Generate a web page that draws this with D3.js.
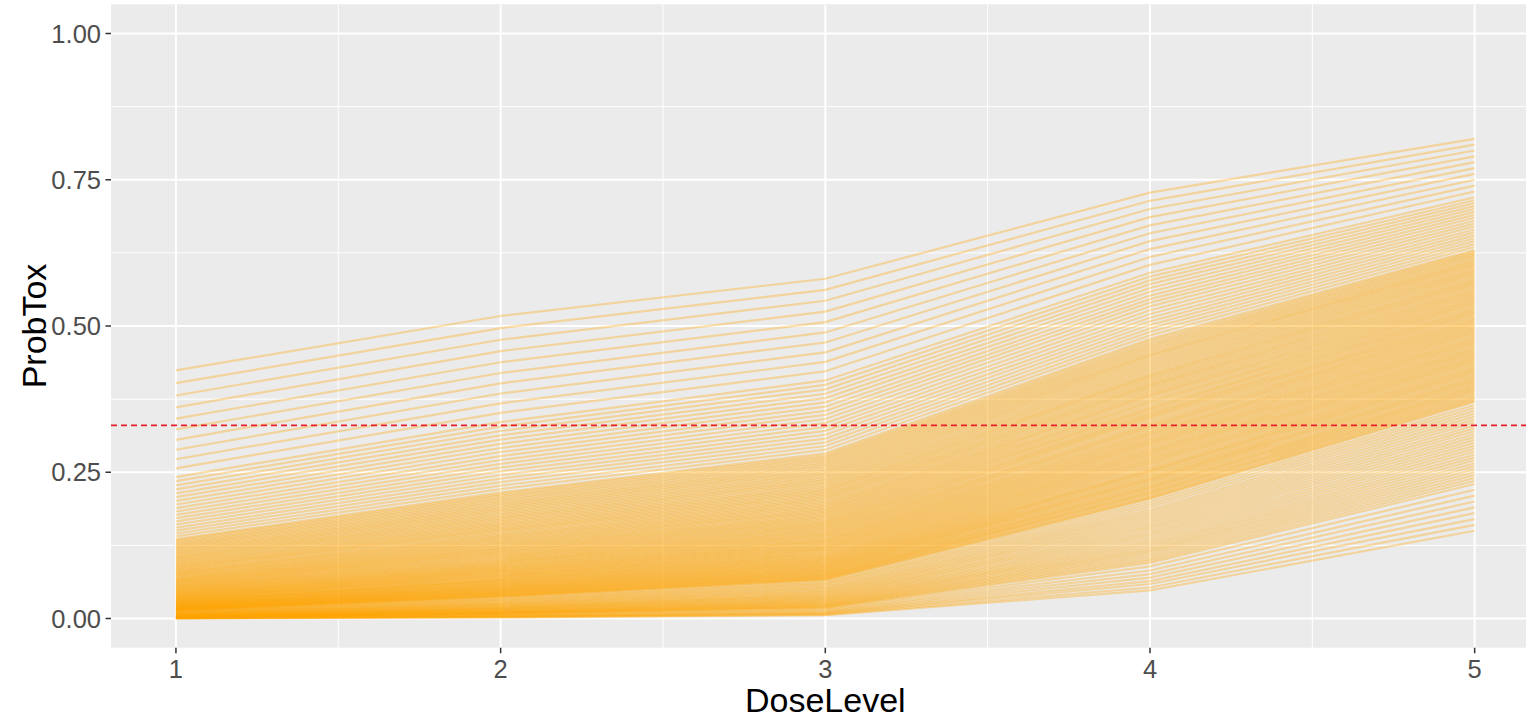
<!DOCTYPE html>
<html>
<head>
<meta charset="utf-8">
<script src="https://cdn.jsdelivr.net/npm/d3@7"></script>
<style>
  body { margin: 0; background: #fff; }
  svg { display: block; font-family: "Liberation Sans", Arial, sans-serif; }
  .tick-label { fill: #4d4d4d; font-size: 25.5px; }
  .axis-title { fill: #000; font-size: 34px; }
</style>
</head>
<body>
<svg width="1526" height="718"></svg>
<script>
// Dose levels on the x axis
var doseLevels = [1, 2, 3, 4, 5];

// Posterior draws of the toxicity probability at each dose level.
// Index i in every array belongs to the same draw (= one line).
// Rows: low tail / lower band / core / upper band / high tail
var tox1 = [0.0003,0.0004,0.0005,0.0006,0.0008,0.0010,0.0012,0.0014,
  0.0017,0.0019,0.0021,0.0023,0.0025,0.0027,0.0030,0.0032,0.0035,0.0038,0.0041,0.0044,0.0047,0.0051,0.0055,0.0059,0.0063,0.0068,0.0073,0.0078,0.0083,0.0088,0.0094,0.0100,0.0107,0.0114,0.0121,0.0128,
  0.0136,0.0140,0.0144,0.0148,0.0153,0.0157,0.0162,0.0166,0.0171,0.0175,0.0180,0.0185,0.0191,0.0196,0.0201,0.0206,0.0212,0.0217,0.0223,0.0229,
  0.0235,0.0241,0.0248,0.0254,0.0260,0.0267,0.0274,0.0281,0.0288,0.0295,0.0302,0.0309,0.0317,0.0325,0.0333,0.0341,0.0349,0.0357,0.0365,0.0374,
  0.0383,0.0392,0.0401,0.0410,0.0419,0.0428,0.0438,0.0448,0.0458,0.0468,0.0479,0.0489,0.0500,0.0511,0.0522,0.0533,0.0545,0.0556,0.0568,0.0580,
  0.0592,0.0604,0.0617,0.0630,0.0643,0.0656,0.0670,0.0683,0.0697,0.0711,0.0726,0.0740,0.0755,0.0770,0.0785,0.0800,0.0816,0.0832,0.0848,0.0864,
  0.0881,0.0898,0.0915,0.0932,0.0950,0.0968,0.0986,0.1004,0.1022,0.1041,0.1060,0.1080,0.1100,0.1120,0.1140,0.1160,0.1181,0.1202,0.1223,0.1245,
  0.1267,0.1290,0.1312,0.1335,0.1358,
  0.1405,0.1453,0.1503,0.1554,0.1607,0.1660,0.1715,0.1771,0.1829,0.1888,0.1949,0.2011,0.2075,0.2140,0.2208,0.2276,0.2347,0.2418,
  0.2567,0.2722,0.2885,0.3054,0.3232,0.3416,0.3610,0.3812,0.4023,0.4241];
var tox2 = [0.0018,0.0023,0.0028,0.0034,0.0040,0.0048,0.0056,0.0065,
  0.0076,0.0081,0.0087,0.0093,0.0100,0.0107,0.0114,0.0121,0.0129,0.0137,0.0146,0.0155,0.0164,0.0173,0.0183,0.0193,0.0204,0.0215,0.0227,0.0239,0.0251,0.0264,0.0278,0.0292,0.0306,0.0321,0.0336,0.0352,
  0.0368,0.0376,0.0385,0.0393,0.0402,0.0411,0.0420,0.0429,0.0438,0.0447,0.0457,0.0466,0.0476,0.0486,0.0497,0.0507,0.0517,0.0527,0.0538,0.0549,
  0.0560,0.0571,0.0583,0.0594,0.0606,0.0618,0.0630,0.0642,0.0654,0.0666,0.0679,0.0692,0.0705,0.0718,0.0731,0.0744,0.0758,0.0772,0.0786,0.0800,
  0.0814,0.0828,0.0843,0.0858,0.0873,0.0888,0.0904,0.0919,0.0935,0.0951,0.0967,0.0983,0.1000,0.1017,0.1034,0.1051,0.1068,0.1085,0.1103,0.1121,
  0.1139,0.1157,0.1176,0.1194,0.1213,0.1232,0.1252,0.1271,0.1291,0.1311,0.1331,0.1352,0.1373,0.1393,0.1414,0.1435,0.1457,0.1479,0.1501,0.1523,
  0.1545,0.1568,0.1591,0.1614,0.1637,0.1661,0.1685,0.1709,0.1733,0.1757,0.1782,0.1807,0.1833,0.1858,0.1884,0.1910,0.1936,0.1962,0.1989,0.2016,
  0.2044,0.2071,0.2099,0.2127,0.2155,
  0.2213,0.2271,0.2331,0.2391,0.2453,0.2515,0.2579,0.2644,0.2710,0.2777,0.2846,0.2915,0.2986,0.3058,0.3131,0.3205,0.3281,0.3358,
  0.3516,0.3678,0.3846,0.4019,0.4197,0.4380,0.4570,0.4765,0.4965,0.5171];
var tox3 = [0.0056,0.0066,0.0078,0.0092,0.0106,0.0122,0.0140,0.0159,
  0.0179,0.0190,0.0201,0.0213,0.0225,0.0237,0.0250,0.0264,0.0278,0.0292,0.0307,0.0322,0.0338,0.0354,0.0371,0.0388,0.0405,0.0423,0.0442,0.0461,0.0481,0.0501,0.0522,0.0543,0.0565,0.0587,0.0610,0.0634,
  0.0658,0.0670,0.0683,0.0695,0.0708,0.0721,0.0734,0.0747,0.0760,0.0773,0.0787,0.0800,0.0814,0.0828,0.0842,0.0856,0.0871,0.0886,0.0901,0.0916,
  0.0931,0.0946,0.0961,0.0977,0.0993,0.1009,0.1025,0.1041,0.1057,0.1073,0.1090,0.1107,0.1124,0.1141,0.1159,0.1176,0.1194,0.1212,0.1230,0.1248,
  0.1266,0.1285,0.1304,0.1322,0.1341,0.1360,0.1380,0.1400,0.1420,0.1439,0.1459,0.1479,0.1500,0.1520,0.1541,0.1562,0.1584,0.1605,0.1626,0.1648,
  0.1670,0.1692,0.1714,0.1736,0.1759,0.1782,0.1805,0.1828,0.1852,0.1875,0.1899,0.1923,0.1947,0.1971,0.1996,0.2021,0.2046,0.2071,0.2096,0.2121,
  0.2147,0.2173,0.2199,0.2225,0.2252,0.2278,0.2305,0.2332,0.2360,0.2387,0.2415,0.2443,0.2471,0.2499,0.2528,0.2556,0.2585,0.2614,0.2644,0.2673,
  0.2703,0.2733,0.2763,0.2793,0.2824,
  0.2886,0.2948,0.3012,0.3076,0.3141,0.3207,0.3274,0.3341,0.3410,0.3480,0.3550,0.3621,0.3694,0.3767,0.3842,0.3917,0.3993,0.4069,
  0.4226,0.4386,0.4550,0.4718,0.4890,0.5066,0.5246,0.5431,0.5617,0.5808];
var tox4 = [0.048,0.053,0.059,0.064,0.070,0.076,0.082,0.089,
  0.095,0.0985,0.102,0.1055,0.109,0.1125,0.116,0.1195,0.123,0.1265,0.130,0.134,0.138,0.142,0.146,0.150,0.154,0.158,0.162,0.166,0.170,0.174,0.178,0.182,0.186,0.1905,0.195,0.1995,
  0.204,0.206,0.208,0.2105,0.213,0.215,0.217,0.2195,0.222,0.224,0.226,0.2285,0.231,0.2335,0.236,0.238,0.240,0.2425,0.245,0.2475,
  0.250,0.252,0.254,0.2565,0.259,0.2615,0.264,0.2665,0.269,0.2715,0.274,0.2765,0.279,0.2815,0.284,0.2865,0.289,0.2915,0.294,0.2965,
  0.299,0.3015,0.304,0.3065,0.309,0.3115,0.314,0.3165,0.319,0.322,0.325,0.3275,0.330,0.3325,0.335,0.338,0.341,0.3435,0.346,0.3485,
  0.351,0.354,0.357,0.3595,0.362,0.365,0.368,0.3705,0.373,0.376,0.379,0.3815,0.384,0.387,0.390,0.393,0.396,0.3985,0.401,0.404,
  0.407,0.410,0.413,0.4155,0.418,0.421,0.424,0.427,0.430,0.433,0.436,0.439,0.442,0.445,0.448,0.4505,0.453,0.456,0.459,0.462,
  0.465,0.468,0.471,0.4745,0.478,
  0.484,0.490,0.496,0.502,0.508,0.514,0.5205,0.527,0.5335,0.540,0.546,0.552,0.5585,0.565,0.5715,0.578,0.5845,0.591,
  0.6045,0.618,0.6315,0.645,0.6585,0.672,0.686,0.700,0.714,0.728];
var tox5 = [0.15,0.16,0.17,0.18,0.19,0.20,0.21,0.22,
  0.23,0.235,0.24,0.245,0.25,0.255,0.26,0.265,0.27,0.275,0.28,0.285,0.29,0.295,0.30,0.305,0.31,0.315,0.32,0.325,0.33,0.335,0.34,0.345,0.35,0.355,0.36,0.365,
  0.37,0.3725,0.375,0.3775,0.38,0.3825,0.385,0.3875,0.39,0.3925,0.395,0.3975,0.40,0.4025,0.405,0.4075,0.41,0.4125,0.415,0.4175,
  0.42,0.4225,0.425,0.4275,0.43,0.4325,0.435,0.4375,0.44,0.4425,0.445,0.4475,0.45,0.4525,0.455,0.4575,0.46,0.4625,0.465,0.4675,
  0.47,0.4725,0.475,0.4775,0.48,0.4825,0.485,0.4875,0.49,0.4925,0.495,0.4975,0.50,0.5025,0.505,0.5075,0.51,0.5125,0.515,0.5175,
  0.52,0.5225,0.525,0.5275,0.53,0.5325,0.535,0.5375,0.54,0.5425,0.545,0.5475,0.55,0.5525,0.555,0.5575,0.56,0.5625,0.565,0.5675,
  0.57,0.5725,0.575,0.5775,0.58,0.5825,0.585,0.5875,0.59,0.5925,0.595,0.5975,0.60,0.6025,0.605,0.6075,0.61,0.6125,0.615,0.6175,
  0.62,0.6225,0.625,0.6275,0.63,
  0.635,0.64,0.645,0.65,0.655,0.66,0.665,0.67,0.675,0.68,0.685,0.69,0.695,0.70,0.705,0.71,0.715,0.72,
  0.73,0.74,0.75,0.76,0.77,0.78,0.79,0.80,0.81,0.82];

var targetTox = 0.33;                       // dashed reference line

// Axis breaks
var xBreaks = [1, 2, 3, 4, 5];
var xMinor = [1.5, 2.5, 3.5, 4.5];
var yBreaks = [0, 0.25, 0.5, 0.75, 1];
var yMinor = [0.125, 0.375, 0.625, 0.875];
var yLabels = ["0.00", "0.25", "0.50", "0.75", "1.00"];

// Build one line per draw from the dose arrays
var toxByDose = [tox1, tox2, tox3, tox4, tox5];
var draws = tox1.map(function(d, i) {
    return doseLevels.map(function(dose, k) { return {dose: dose, p: toxByDose[k][i]}; });
});

var svg = d3.select("svg"),
    panel = {left: 111, top: 4.25, right: 1539.6, bottom: 647.75};

var x = d3.scaleLinear().domain([0.8, 5.2]).range([panel.left, panel.right]);
var y = d3.scaleLinear().domain([-0.05, 1.05]).range([panel.bottom, panel.top]);

svg.append("clipPath").attr("id", "clip")
  .append("rect")
    .attr("x", panel.left).attr("y", panel.top)
    .attr("width", panel.right - panel.left).attr("height", panel.bottom - panel.top);

// ==================== Panel + grid ==================== //
svg.append("rect")
    .attr("x", panel.left).attr("y", panel.top)
    .attr("width", panel.right - panel.left).attr("height", panel.bottom - panel.top)
    .attr("fill", "#ebebeb");

var grid = svg.append("g").attr("clip-path", "url(#clip)");

grid.selectAll(".ymin").data(yMinor).enter().append("line")
    .attr("x1", panel.left).attr("x2", panel.right)
    .attr("y1", function(d) { return y(d); }).attr("y2", function(d) { return y(d); })
    .attr("stroke", "#fff").attr("stroke-width", 1);
grid.selectAll(".xmin").data(xMinor).enter().append("line")
    .attr("y1", panel.top).attr("y2", panel.bottom)
    .attr("x1", function(d) { return x(d); }).attr("x2", function(d) { return x(d); })
    .attr("stroke", "#fff").attr("stroke-width", 1);
grid.selectAll(".ymaj").data(yBreaks).enter().append("line")
    .attr("x1", panel.left).attr("x2", panel.right)
    .attr("y1", function(d) { return y(d); }).attr("y2", function(d) { return y(d); })
    .attr("stroke", "#fff").attr("stroke-width", 2);
grid.selectAll(".xmaj").data(xBreaks).enter().append("line")
    .attr("y1", panel.top).attr("y2", panel.bottom)
    .attr("x1", function(d) { return x(d); }).attr("x2", function(d) { return x(d); })
    .attr("stroke", "#fff").attr("stroke-width", 2);

// ==================== Lines ==================== //
var line = d3.line()
    .x(function(d) { return x(d.dose); })
    .y(function(d) { return y(d.p); });

grid.selectAll(".draw").data(draws).enter().append("path")
    .attr("class", "draw")
    .attr("d", line)
    .attr("fill", "none")
    .attr("stroke", "#ffa500")
    .attr("stroke-width", 2.2)
    .attr("stroke-opacity", 0.34);

// Target line
grid.append("line")
    .attr("x1", panel.left).attr("x2", panel.right)
    .attr("y1", y(targetTox)).attr("y2", y(targetTox))
    .attr("stroke", "#e8202a")
    .attr("stroke-width", 1.8)
    .attr("stroke-dasharray", "6,4");

// ==================== Axes ==================== //
var yAxis = svg.append("g");
yAxis.selectAll("line").data(yBreaks).enter().append("line")
    .attr("x1", panel.left - 5.5).attr("x2", panel.left)
    .attr("y1", function(d) { return y(d); }).attr("y2", function(d) { return y(d); })
    .attr("stroke", "#333").attr("stroke-width", 1.5);
yAxis.selectAll("text").data(yBreaks).enter().append("text")
    .attr("class", "tick-label")
    .attr("x", panel.left - 10)
    .attr("y", function(d) { return y(d); })
    .attr("dy", "0.36em")
    .attr("text-anchor", "end")
    .text(function(d, i) { return yLabels[i]; });

var xAxis = svg.append("g");
xAxis.selectAll("line").data(xBreaks).enter().append("line")
    .attr("y1", panel.bottom).attr("y2", panel.bottom + 5.5)
    .attr("x1", function(d) { return x(d); }).attr("x2", function(d) { return x(d); })
    .attr("stroke", "#333").attr("stroke-width", 1.5);
xAxis.selectAll("text").data(xBreaks).enter().append("text")
    .attr("class", "tick-label")
    .attr("x", function(d) { return x(d); })
    .attr("y", 678)
    .attr("text-anchor", "middle")
    .text(function(d) { return d; });

svg.append("text")
    .attr("class", "axis-title")
    .attr("x", (panel.left + panel.right) / 2)
    .attr("y", 712)
    .attr("text-anchor", "middle")
    .text("DoseLevel");

svg.append("text")
    .attr("class", "axis-title")
    .attr("transform", "translate(46," + ((panel.top + panel.bottom) / 2) + ") rotate(-90)")
    .attr("text-anchor", "middle")
    .text("ProbTox");
</script>
</body>
</html>
